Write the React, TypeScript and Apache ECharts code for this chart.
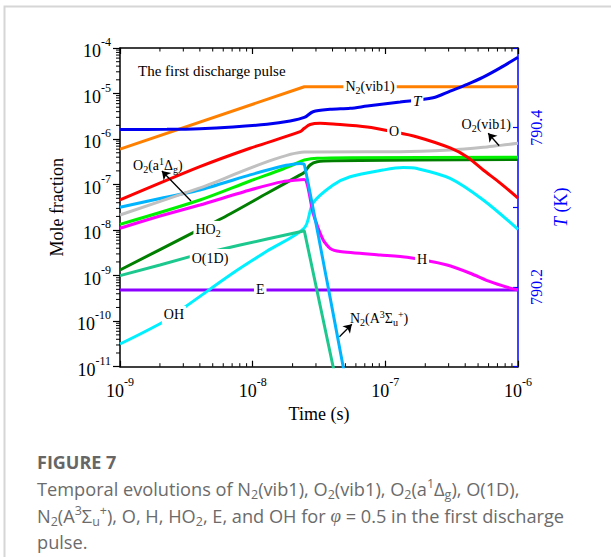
import { useEffect, useRef } from "react";
import * as echarts from "echarts";

const SERIF = "Liberation Serif";
const SANS = "Open Sans";
const BLUE = "#0000ff";
const CAP = "#6b6b6b";

// ---- axes ----
const X_MIN = 1e-9;
const X_MAX = 1e-6;
const Y_MIN = 1e-11;
const Y_MAX = 1e-4;
const T_MIN = 790.1;
const T_MAX = 790.5;
const T_STEP = 0.1;
const T_LABELS = [790.2, 790.4];
const PULSE_END = 2.45e-8;
const X_DECADES = [-9, -8, -7];
const Y_DECADES = [-11, -10, -9, -8, -7, -6, -5];
const MINOR_MULT = [2, 3, 4, 5, 6, 7, 8, 9];

// ---- series data (time in s, mole fraction) ----
const tN2vib = [1e-9, 2.45e-8, 1e-6];
const vN2vib = [6.0e-7, 1.41e-5, 1.41e-5];

const tT = [1e-9, 2.26e-9, 4.0e-9, 7.11e-9, 1.285e-8, 1.915e-8, 2.45e-8, 2.85e-8, 3.84e-8, 5.43e-8, 7.3e-8, 1.294e-7, 2.29e-7, 3.08e-7, 4.14e-7, 5.47e-7, 7.35e-7, 1e-6];
const vT = [790.3978, 790.398, 790.3988, 790.4009, 790.4043, 790.4084, 790.4128, 790.42, 790.423, 790.4243, 790.4271, 790.4321, 790.4375, 790.4459, 790.4543, 790.4634, 790.475, 790.4884];

const tO = [1e-9, 4.0e-9, 9.55e-9, 2.28e-8, 2.45e-8, 2.71e-8, 3.22e-8, 4.04e-8, 7.3e-8, 1.146e-7, 1.738e-7, 3.08e-7, 4.14e-7, 5.47e-7, 7.35e-7, 1e-6];
const vO = [4.59e-8, 2.47e-7, 6.27e-7, 1.45e-6, 1.72e-6, 2.09e-6, 2.22e-6, 2.14e-6, 1.84e-6, 1.45e-6, 1.11e-6, 6.37e-7, 4.04e-7, 2.09e-7, 1.08e-7, 5.07e-8];

const tO2vib = [1e-9, 4.0e-9, 2.45e-8, 7.3e-8, 1.294e-7, 3.08e-7, 5.47e-7, 1e-6];
const vO2vib = [2.15e-8, 8.45e-8, 5.2e-7, 5.27e-7, 5.27e-7, 5.75e-7, 6.59e-7, 8.07e-7];

const tN2A = [1e-9, 2.0e-9, 4.0e-9, 9.55e-9, 1.69e-8, 2.28e-8, 2.45e-8, 3.62e-8, 4.81e-8, 5.06e-8];
const vN2A = [3.17e-8, 4.94e-8, 7.6e-8, 1.63e-7, 2.56e-7, 2.9e-7, 2.76e-7, 8.0e-10, 1.0e-11, 4.6e-12];

const tO2a = [1e-9, 4.0e-9, 9.55e-9, 1.69e-8, 2.28e-8, 2.45e-8, 3.06e-8, 5.43e-8, 1e-6];
const vO2a = [1.34e-8, 4.59e-8, 1.2e-7, 2.2e-7, 3.18e-7, 3.47e-7, 3.78e-7, 3.9e-7, 3.97e-7];

const tH = [1e-9, 2.0e-9, 4.0e-9, 9.55e-9, 1.69e-8, 2.45e-8, 2.85e-8, 3.4e-8, 3.84e-8, 4.56e-8, 9.14e-8, 1.46e-7, 2.92e-7, 4.36e-7, 6.17e-7, 8.29e-7, 1e-6];
const vH = [1.1e-8, 2.04e-8, 3.56e-8, 7.6e-8, 1.16e-7, 1.29e-7, 2.38e-8, 6.07e-9, 3.95e-9, 3.39e-9, 2.84e-9, 2.53e-9, 1.71e-9, 1.13e-9, 7.37e-10, 5.55e-10, 4.84e-10];

const tHO2 = [1e-9, 3.56e-9, 5.88e-9, 1.285e-8, 2.28e-8, 2.45e-8, 2.71e-8, 3.06e-8, 4.04e-8, 1e-6];
const vHO2 = [1.33e-9, 8.77e-9, 1.82e-8, 6.44e-8, 1.63e-7, 1.85e-7, 2.69e-7, 3.18e-7, 3.35e-7, 3.56e-7];

const tO1D = [1e-9, 2.0e-9, 3.37e-9, 8.04e-9, 1.285e-8, 2.28e-8, 2.45e-8, 4.04e-8, 4.26e-8];
const vO1D = [1.0e-9, 1.71e-9, 2.61e-9, 4.71e-9, 6.38e-9, 9.23e-9, 9.71e-9, 1.0e-11, 5.1e-12];

const tOH = [1e-9, 2.11e-9, 3.09e-9, 7.11e-9, 1.285e-8, 2.45e-8, 2.85e-8, 4.04e-8, 5.43e-8, 9.61e-8, 1.36e-7, 1.738e-7, 3.08e-7, 5.47e-7, 1e-6];
const vOH = [3.15e-11, 9.6e-11, 2.05e-10, 1.14e-9, 3.47e-9, 1.11e-8, 3.94e-8, 9.8e-8, 1.49e-7, 2.09e-7, 2.37e-7, 2.25e-7, 1.37e-7, 4.59e-8, 1.04e-8];

const tE = [1e-9, 1e-6];
const vE = [4.84e-10, 4.84e-10];

// ---- annotation anchors (data coordinates) ----
const LBL_N2VIB: [number, number] = [7.67e-8, 1.41e-5];
const LBL_T: [number, number] = [1.74e-7, 790.433];
const LBL_O: [number, number] = [1.165e-7, 1.5e-6];
const LBL_O2VIB: [number, number] = [5.76e-7, 2.04e-6];
const LBL_O2A: [number, number] = [1.93e-9, 2.69e-7];
const LBL_HO2: [number, number] = [4.61e-9, 1.01e-8];
const LBL_O1D: [number, number] = [4.77e-9, 2.44e-9];
const LBL_E: [number, number] = [1.14e-8, 4.84e-10];
const LBL_OH: [number, number] = [2.55e-9, 1.37e-10];
const LBL_H: [number, number] = [1.89e-7, 2.29e-9];
const LBL_N2A: [number, number] = [8.98e-8, 1.12e-10];

const ARROW_O2A = [[3.43e-9, 4.36e-8], [2.07e-9, 1.99e-7]];
const ARROW_O2VIB = [[7.21e-7, 7.14e-7], [5.96e-7, 1.34e-6]];
const ARROW_N2A = [[4.51e-8, 4.56e-11], [5.59e-8, 8.54e-11]];

const CAPTION_TITLE = "FIGURE 7";
const CAPTION_LINES = [
  "Temporal evolutions of N{sb|2}(vib1), O{sb|2}(vib1), O{sb|2}(a{sp|1}Δ{sb|g}), O(1D),",
  "N{sb|2}(A{sp|3}Σ{sb|u}{sp|+}), O, H, HO{sb|2}, E, and OH for {it|φ} = 0.5 in the first discharge",
  "pulse.",
];

const pairs = (t: number[], v: number[]) => t.map((x, i) => [x, v[i]]);

const LABEL_RICH = {
  sb: { fontFamily: SERIF, fontSize: 10, color: "#000", lineHeight: 10, verticalAlign: "bottom" },
  sp: { fontFamily: SERIF, fontSize: 10, color: "#000", lineHeight: 10, verticalAlign: "top" },
  it: { fontFamily: SERIF, fontSize: 15, color: "#000", fontStyle: "italic" },
};

function markLabel(coord: [number, number], text: string, bg: boolean) {
  return {
    silent: true,
    symbol: "circle",
    symbolSize: 0,
    itemStyle: { color: "rgba(0,0,0,0)" },
    label: {
      show: true,
      position: "inside",
      fontFamily: SERIF,
      fontSize: 14,
      color: "#000",
      lineHeight: 18,
      padding: [0, 2],
      backgroundColor: bg ? "#fff" : "transparent",
      rich: LABEL_RICH,
    },
    data: [{ coord, value: 0, label: { formatter: text } }],
  };
}

function arrow(seg: number[][]) {
  return {
    silent: true,
    symbol: ["none", "arrow"],
    symbolSize: 8,
    label: { show: false },
    lineStyle: { color: "#000", width: 1.3, type: "solid" },
    emphasis: { disabled: true },
    data: [[{ coord: seg[0] }, { coord: seg[1] }]],
  };
}

function lineSeries(name: string, data: number[][], color: string, smooth: number | boolean, extra: any = {}) {
  return {
    name,
    type: "line",
    data,
    showSymbol: false,
    symbol: "none",
    smooth,
    lineStyle: { color, width: 3 },
    itemStyle: { color },
    emphasis: { disabled: true },
    silent: true,
    ...extra,
  };
}

const AX_RICH = {
  b: { fontFamily: SERIF, fontSize: 18, color: "#000", lineHeight: 24, verticalAlign: "bottom" },
  s: { fontFamily: SERIF, fontSize: 12, color: "#000", lineHeight: 14, verticalAlign: "top" },
};
const powLabel = (v: number) => `{b|10}{s|${Math.round(Math.log10(v))}}`;

function buildOption() {
  const minorX: number[] = [];
  X_DECADES.forEach((d) => MINOR_MULT.forEach((m) => minorX.push(m * Math.pow(10, d))));
  const minorY: number[] = [];
  Y_DECADES.forEach((d) => MINOR_MULT.forEach((m) => minorY.push(m * Math.pow(10, d))));

  const capRich = {
    sb: { fontFamily: SANS, fontSize: 12.5, fill: CAP, lineHeight: 12, verticalAlign: "bottom" },
    sp: { fontFamily: SANS, fontSize: 12.5, fill: CAP, lineHeight: 12, verticalAlign: "top" },
    it: { fontFamily: SERIF, fontSize: 19, fill: CAP, fontStyle: "italic" },
  };

  return {
    animation: false,
    backgroundColor: "#fff",
    textStyle: { fontFamily: SERIF },
    grid: { left: 120, right: 93, top: 48, bottom: 190.3, containLabel: false },
    xAxis: [
      {
        type: "log",
        logBase: 10,
        min: X_MIN,
        max: X_MAX,
        position: "bottom",
        name: "Time (s)",
        nameLocation: "middle",
        nameGap: 34,
        nameTextStyle: { fontFamily: SERIF, fontSize: 18, color: "#000" },
        axisLine: { show: true, lineStyle: { color: "#000", width: 1.5 } },
        axisTick: { show: true, inside: true, length: 6, lineStyle: { color: "#000", width: 1.2 } },
        axisLabel: { formatter: powLabel, rich: AX_RICH, margin: 9 },
        splitLine: { show: false },
      },
      {
        type: "log",
        logBase: 10,
        min: X_MIN,
        max: X_MAX,
        position: "top",
        axisLine: { show: true, lineStyle: { color: "#000", width: 1.5 } },
        axisTick: { show: true, inside: true, length: 6, lineStyle: { color: "#000", width: 1.2 } },
        axisLabel: { show: false },
        splitLine: { show: false },
      },
    ],
    yAxis: [
      {
        type: "log",
        logBase: 10,
        min: Y_MIN,
        max: Y_MAX,
        position: "left",
        name: "Mole fraction",
        nameLocation: "middle",
        nameGap: 45,
        nameTextStyle: { fontFamily: SERIF, fontSize: 18, color: "#000" },
        axisLine: { show: true, lineStyle: { color: "#000", width: 1.5 } },
        axisTick: { show: true, inside: false, length: 7, lineStyle: { color: "#000", width: 1.2 } },
        axisLabel: { formatter: powLabel, rich: AX_RICH, margin: 9 },
        splitLine: { show: false },
      },
      {
        type: "value",
        min: T_MIN,
        max: T_MAX,
        interval: T_STEP,
        position: "right",
        name: "{i|T} (K)",
        nameLocation: "middle",
        nameGap: 28,
        nameTextStyle: {
          fontFamily: SERIF,
          fontSize: 18,
          color: BLUE,
          rich: { i: { fontFamily: SERIF, fontSize: 18, color: BLUE, fontStyle: "italic" } },
        },
        axisLine: { show: true, lineStyle: { color: BLUE, width: 1.5 } },
        axisTick: { show: true, inside: true, length: 5, lineStyle: { color: BLUE, width: 1.2 } },
        axisLabel: {
          rotate: 90,
          margin: 10,
          color: BLUE,
          fontFamily: SERIF,
          fontSize: 16,
          formatter: (v: number) => (T_LABELS.some((l) => Math.abs(l - v) < 1e-6) ? v.toFixed(1) : ""),
        },
        splitLine: { show: false },
      },
    ],
    series: [
      lineSeries("E", pairs(tE, vE), "#8b00ff", false, {
        markPoint: markLabel(LBL_E, "E", true),
        markLine: {
          silent: true,
          symbol: ["none", "none"],
          label: { show: false },
          lineStyle: { color: "#000", width: 1.5, type: [4, 3] },
          emphasis: { disabled: true },
          data: [{ xAxis: PULSE_END }],
        },
      }),
      lineSeries("OH", pairs(tOH, vOH), "#00f0ff", 0.3, { markPoint: markLabel(LBL_OH, "OH", true) }),
      lineSeries("O(1D)", pairs(tO1D, vO1D), "#1dc88e", false, { markPoint: markLabel(LBL_O1D, "O(1D)", true) }),
      lineSeries("HO2", pairs(tHO2, vHO2), "#007f00", 0.3, { markPoint: markLabel(LBL_HO2, "HO{sb|2}", true) }),
      lineSeries("H", pairs(tH, vH), "#ff00ff", 0.2, { markPoint: markLabel(LBL_H, "H", true) }),
      lineSeries("O2(a1Dg)", pairs(tO2a, vO2a), "#00f000", 0.3, {
        markPoint: markLabel(LBL_O2A, "O{sb|2}(a{sp|1}Δ{sb|g})", false),
        markLine: arrow(ARROW_O2A),
      }),
      lineSeries("N2(A)", pairs(tN2A, vN2A), "#00b4ff", 0.15, {
        markPoint: markLabel(LBL_N2A, "N{sb|2}(A{sp|3}Σ{sb|u}{sp|+})", false),
        markLine: arrow(ARROW_N2A),
      }),
      lineSeries("O2(vib1)", pairs(tO2vib, vO2vib), "#c0c0c0", 0.2, {
        markPoint: markLabel(LBL_O2VIB, "O{sb|2}(vib1)", false),
        markLine: arrow(ARROW_O2VIB),
      }),
      lineSeries("O", pairs(tO, vO), "#ff0000", 0.3, { markPoint: markLabel(LBL_O, "O", true) }),
      lineSeries("N2(vib1)", pairs(tN2vib, vN2vib), "#ff8000", false, { markPoint: markLabel(LBL_N2VIB, "N{sb|2}(vib1)", true) }),
      lineSeries("T", pairs(tT, vT), "#0000f0", 0.3, {
        yAxisIndex: 1,
        markPoint: markLabel(LBL_T, "{it|T}", true),
      }),
      {
        type: "custom",
        silent: true,
        clip: false,
        data: minorX.map((t) => [t, Y_MIN]),
        renderItem: (_p: any, api: any) => {
          const t = api.value(0);
          const b = api.coord([t, Y_MIN]);
          const tp = api.coord([t, Y_MAX]);
          const st = { stroke: "#000", lineWidth: 1 };
          return {
            type: "group",
            children: [
              { type: "line", shape: { x1: b[0], y1: b[1], x2: b[0], y2: b[1] - 3.5 }, style: st },
              { type: "line", shape: { x1: tp[0], y1: tp[1], x2: tp[0], y2: tp[1] + 3.5 }, style: st },
            ],
          };
        },
      },
      {
        type: "custom",
        silent: true,
        clip: false,
        data: minorY.map((v) => [X_MIN, v]),
        renderItem: (_p: any, api: any) => {
          const p = api.coord([X_MIN, api.value(1)]);
          return {
            type: "line",
            shape: { x1: p[0] - 4, y1: p[1], x2: p[0], y2: p[1] },
            style: { stroke: "#000", lineWidth: 1 },
          };
        },
      },
    ],
    graphic: [
      {
        type: "rect",
        silent: true,
        z: -10,
        shape: { x: 4.5, y: 6.5, width: 640, height: 620 },
        style: { fill: "none", stroke: "#d6d6d6", lineWidth: 2 },
      },
      {
        type: "text",
        x: 138,
        y: 71,
        style: { text: "The first discharge pulse", fontFamily: SERIF, fontSize: 15, fill: "#000", verticalAlign: "middle" },
      },
      {
        type: "text",
        x: 37,
        y: 462,
        style: { text: CAPTION_TITLE, fontFamily: SANS, fontSize: 18, fontWeight: "bold", fill: "#666", verticalAlign: "middle" },
      },
      ...CAPTION_LINES.map((line, i) => ({
        type: "text",
        x: 37,
        y: 489 + i * 26.5,
        style: {
          text: line,
          fontFamily: SANS,
          fontSize: 18.2,
          fill: CAP,
          lineHeight: 24,
          verticalAlign: "middle",
          rich: capRich,
        },
      })),
    ],
  };
}

export default function App() {
  const ref = useRef<HTMLDivElement>(null);
  useEffect(() => {
    if (!ref.current) return;
    const chart = echarts.init(ref.current, null, { renderer: "svg" });
    chart.setOption(buildOption() as any);
    return () => chart.dispose();
  }, []);
  return (
    <div
      ref={ref}
      style={{ position: "absolute", left: 0, top: 0, width: 611, height: 557, background: "#fff" }}
    />
  );
}
